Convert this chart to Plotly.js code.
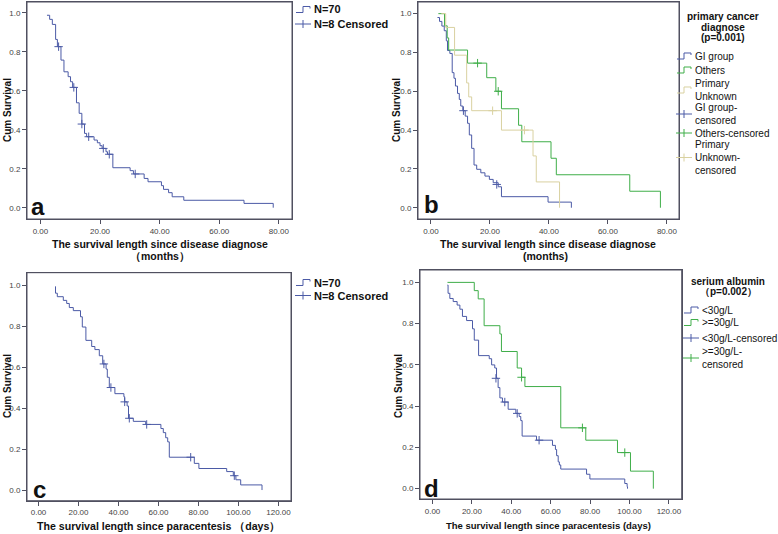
<!DOCTYPE html>
<html>
<head>
<meta charset="utf-8">
<script src="https://cdn.plot.ly/plotly-3.0.1.min.js"></script>
<style>html,body{margin:0;padding:0;background:#fff;}#chart{width:778px;height:534px;}</style>
</head>
<body>
<div id="chart"></div>
<script>
// ---------- DATA ----------
// Panel a: survival since disease diagnose (months), all patients
const aTime = [2.2,3.1,4.0,5.1,5.7,6.9,7.9,9.3,10.1,10.8,12.1,13.0,13.9,14.8,15.5,18.0,19.1,20.0,20.7,22.0,22.5,24.3,30.1,31.2,34.8,36.1,40.6,41.3,43.0,44.2,48.1,68.3,78.1];
const aSurv = [0.987,0.966,0.94,0.863,0.826,0.757,0.697,0.672,0.646,0.617,0.538,0.484,0.429,0.381,0.364,0.347,0.333,0.318,0.304,0.287,0.274,0.205,0.19,0.173,0.15,0.133,0.113,0.094,0.077,0.056,0.038,0.022,0.0];
const aCensT = [6.1,11.2,13.9,16.2,21.1,23.1,31.8];
const aCensS = [0.826,0.617,0.429,0.364,0.304,0.274,0.173];

// Panel b: by primary cancer diagnose (months)
const bGiTime = [2.2,2.9,3.7,4.5,5.2,5.6,6.4,7.2,7.8,8.3,9.0,9.6,10.1,10.8,11.6,12.4,13.0,13.8,14.6,15.5,16.9,18.3,19.8,21.1,22.8,23.9,39.7,47.6];
const bGiSurv = [0.98,0.96,0.936,0.912,0.86,0.81,0.795,0.696,0.667,0.627,0.589,0.558,0.524,0.5,0.472,0.435,0.375,0.306,0.22,0.198,0.18,0.163,0.146,0.129,0.108,0.057,0.029,0.0];
const bGiCensT = [11.0,22.3];
const bGiCensS = [0.5,0.12];
const bOthTime = [2.5,4.6,5.5,6.0,12.4,18.9,22.0,23.9,29.7,30.8,40.7,42.5,67.4,77.8];
const bOthSurv = [1.0,0.9375,0.875,0.8125,0.745,0.67,0.6,0.51,0.425,0.34,0.255,0.17,0.085,0.0];
const bOthCensT = [15.8,22.8];
const bOthCensS = [0.745,0.6];
const bUnkTime = [3.5,5.0,8.0,12.1,12.8,13.8,23.9,34.6,35.7,43.6];
const bUnkSurv = [1.0,0.929,0.786,0.643,0.571,0.5,0.4,0.267,0.133,0.0];
const bUnkCensT = [20.9,31.7];
const bUnkCensS = [0.5,0.4];

// Panel c: survival since paracentesis (days), all patients
const cTime = [8.25,8.5,9.4,12.4,14.1,15.4,17.4,21.0,21.9,23.7,26.6,28.2,30.4,32.1,33.8,34.4,35.4,38.2,42.7,43.1,44.3,45.0,47.4,53.6,61.2,62.4,63.6,64.6,65.4,77.9,80.2,94.1,97.4,98.7,101.1,111.75];
const cSurv = [0.992,0.96,0.943,0.925,0.91,0.89,0.875,0.845,0.795,0.73,0.7,0.685,0.655,0.615,0.59,0.55,0.5,0.47,0.455,0.43,0.41,0.35,0.335,0.32,0.3,0.28,0.255,0.235,0.16,0.13,0.105,0.09,0.07,0.05,0.025,0.0];
const cCensT = [32.7,36.2,43.1,45.4,54.1,76.1,97.9];
const cCensS = [0.615,0.5,0.43,0.35,0.32,0.16,0.07];

// Panel d: by serum albumin (days)
const dLowTime = [7.6,7.9,8.8,10.5,12.5,13.9,15.2,17.3,20.3,21.2,23.4,28.8,30.0,31.6,32.5,33.3,34.2,35.5,38.4,42.3,44.0,44.8,45.5,52.8,60.9,62.4,63.0,63.8,64.4,65.1,78.2,79.9,97.6,98.8,99.0];
const dLowSurv = [0.987,0.947,0.922,0.907,0.89,0.87,0.835,0.815,0.775,0.72,0.645,0.63,0.6,0.585,0.535,0.49,0.44,0.42,0.385,0.365,0.35,0.33,0.255,0.235,0.21,0.19,0.16,0.13,0.115,0.095,0.07,0.047,0.025,0.01,0.0];
const dLowCensT = [32.2,36.7,43.0,54.1];
const dLowCensS = [0.535,0.42,0.365,0.235];
const dHighTime = [7.6,21.2,23.2,26.2,34.2,35.0,43.0,45.2,46.9,65.1,77.8,93.9,100.5,112.1];
const dHighSurv = [1.0,0.96,0.92,0.79,0.75,0.665,0.585,0.54,0.495,0.295,0.235,0.175,0.085,0.0];
const dHighCensT = [45.2,76.1,97.6];
const dHighCensS = [0.54,0.295,0.175];

const monthTicks = [0,20,40,60,80];
const dayTicks = [0,20,40,60,80,100,120];
const survTicks = [0,0.2,0.4,0.6,0.8,1.0];

// ---------- STYLE ----------
const BLUE = '#4b5aa6', GREEN = '#3fae49', TAN = '#d9d1a0';
const FRAME = 'rgb(80,80,96)';
const W = 778, H = 534;
const FONT = 'Liberation Sans, Arial, sans-serif';
const px = x => x / W, py = y => 1 - y / H;

function curve(t, s, color, xa, ya, name) {
  return {x: t, y: s, type: 'scatter', mode: 'lines', line: {shape: 'hv', color: color, width: 1},
          xaxis: xa, yaxis: ya, name: name, showlegend: false, hoverinfo: 'skip'};
}
function cens(t, s, color, xa, ya, name) {
  return {x: t, y: s, type: 'scatter', mode: 'markers',
          marker: {symbol: 'cross-thin', size: 6, line: {color: color, width: 1}, color: color},
          xaxis: xa, yaxis: ya, name: name, showlegend: false, hoverinfo: 'skip'};
}
function xax(l, r, range, ticks, anchor) {
  return {domain: [px(l), px(r)], range: range, tickvals: ticks, tickformat: '.2f', anchor: anchor,
          showline: true, mirror: true, linecolor: FRAME, linewidth: 1,
          ticks: 'outside', ticklen: 4, tickwidth: 1, tickcolor: FRAME,
          tickfont: {family: FONT, size: 8, color: '#444'}, showgrid: false, zeroline: false, fixedrange: true};
}
function yax(t, b, range, anchor) {
  return {domain: [py(b), py(t)], range: range, tickvals: survTicks, tickformat: '.1f', anchor: anchor,
          showline: true, mirror: true, linecolor: FRAME, linewidth: 1,
          ticks: 'outside', ticklen: 4, tickwidth: 1, tickcolor: FRAME,
          tickfont: {family: FONT, size: 8, color: '#444'}, showgrid: false, zeroline: false, fixedrange: true};
}

const data = [
  curve(aTime, aSurv, BLUE, 'x', 'y', 'N=70'),
  cens(aCensT, aCensS, BLUE, 'x', 'y', 'N=8 Censored'),
  curve(bGiTime, bGiSurv, BLUE, 'x2', 'y2', 'GI group'),
  curve(bOthTime, bOthSurv, GREEN, 'x2', 'y2', 'Others'),
  curve(bUnkTime, bUnkSurv, TAN, 'x2', 'y2', 'Primary Unknown'),
  cens(bGiCensT, bGiCensS, BLUE, 'x2', 'y2', 'GI group-censored'),
  cens(bOthCensT, bOthCensS, GREEN, 'x2', 'y2', 'Others-censored'),
  cens(bUnkCensT, bUnkCensS, TAN, 'x2', 'y2', 'Primary Unknown-censored'),
  curve(cTime, cSurv, BLUE, 'x3', 'y3', 'N=70'),
  cens(cCensT, cCensS, BLUE, 'x3', 'y3', 'N=8 Censored'),
  curve(dLowTime, dLowSurv, BLUE, 'x4', 'y4', '<30g/L'),
  curve(dHighTime, dHighSurv, GREEN, 'x4', 'y4', '>=30g/L'),
  cens(dLowCensT, dLowCensS, BLUE, 'x4', 'y4', '<30g/L-censored'),
  cens(dHighCensT, dHighCensS, GREEN, 'x4', 'y4', '>=30g/L-censored')
];

// ---------- ANNOTATIONS / LEGENDS ----------
const ann = [];
const shapes = [];
// panel frames, in paper coordinates
const frames = [[27, 2, 292, 219], [418, 2, 679, 219], [27, 272.7, 291, 500.7], [420, 270, 681.7, 499]];
frames.forEach(([l, t, r, b]) => {
  shapes.push({type: 'rect', xref: 'paper', yref: 'paper', x0: px(l), x1: px(r), y0: py(b), y1: py(t),
               line: {color: FRAME, width: 1}});
});
function txt(x, y, text, size, bold, anchor, extra) {
  ann.push(Object.assign({xref: 'paper', yref: 'paper', x: px(x), y: py(y), text: bold ? '<b>' + text + '</b>' : text,
    showarrow: false, xanchor: anchor || 'center', yanchor: 'middle', align: anchor === 'left' ? 'left' : 'center',
    font: {family: FONT, size: size, color: '#111'}}, extra || {}));
}
function stepGlyph(x0, y, color) {
  const p = v => px(v).toFixed(5), q = v => py(v).toFixed(5);
  shapes.push({type: 'path', xref: 'paper', yref: 'paper',
    path: 'M' + p(x0) + ',' + q(y + 3) + ' L' + p(x0 + 7) + ',' + q(y + 3) + ' L' + p(x0 + 7) + ',' + q(y - 3) +
          ' L' + p(x0 + 14) + ',' + q(y - 3) + ' L' + p(x0 + 14) + ',' + q(y - 1),
    line: {color: color, width: 1}});
}
function crossGlyph(x0, y, color) {
  shapes.push({type: 'line', xref: 'paper', yref: 'paper', x0: px(x0), x1: px(x0 + 16), y0: py(y), y1: py(y), line: {color: color, width: 1}});
  shapes.push({type: 'line', xref: 'paper', yref: 'paper', x0: px(x0 + 8), x1: px(x0 + 8), y0: py(y - 4), y1: py(y + 4), line: {color: color, width: 1}});
}

// axis titles
const ytitle = (x, y) => txt(x, y, 'Cum Survival', 10, true, 'center', {textangle: -90});
ytitle(7, 110); ytitle(396, 110); ytitle(7, 386); ytitle(398, 386);
txt(160, 244, 'The survival length since disease diagnose', 10.5, true);
txt(160, 256, '（months）', 10.5, true);
txt(548, 244, 'The survival length since disease diagnose', 10.5, true);
txt(545, 256, '(months)', 10.5, true);
txt(158, 526.5, 'The survival length since paracentesis （days）', 10.6, true);
txt(548, 525, 'The survival length since paracentesis (days)', 9.5, true);

// panel letters
txt(38, 206, 'a', 24, true); txt(431, 205, 'b', 24, true);
txt(39, 489, 'c', 24, true); txt(431, 488, 'd', 24, true);

// legend a
stepGlyph(296, 9.5, BLUE); txt(312, 9.5, 'N=70', 11, true, 'left');
crossGlyph(295, 24, BLUE); txt(312, 24, 'N=8 Censored', 11, true, 'left');
// legend c
stepGlyph(296, 282.5, BLUE); txt(312, 282.5, 'N=70', 11, true, 'left');
crossGlyph(295, 295.5, BLUE); txt(312, 295.5, 'N=8 Censored', 11, true, 'left');

// legend b
txt(723, 17, 'primary cancer', 10, true); txt(723, 27, 'diagnose', 10, true); txt(723, 37, '(p=0.001)', 10, true);
const LB = 10;
stepGlyph(677, 56, BLUE); txt(693, 56, 'GI group', LB, false, 'left');
stepGlyph(677, 70, GREEN); txt(693, 70, 'Others', LB, false, 'left');
stepGlyph(677, 90, TAN); txt(693, 90, 'Primary<br>Unknown', LB, false, 'left');
crossGlyph(676, 114, BLUE); txt(693, 114, 'GI group-<br>censored', LB, false, 'left');
crossGlyph(676, 133, GREEN); txt(693, 133, 'Others-censored', LB, false, 'left');
crossGlyph(676, 157.5, TAN); txt(693, 157.5, 'Primary<br>Unknown-<br>censored', LB, false, 'left');

// legend d
txt(728, 281, 'serium albumin', 10, true); txt(728, 291, '（p=0.002）', 10, true);
stepGlyph(684, 310, BLUE); txt(700, 310, '&lt;30g/L', LB, false, 'left');
stepGlyph(684, 322.5, GREEN); txt(700, 322.5, '&gt;=30g/L', LB, false, 'left');
crossGlyph(683, 338, BLUE); txt(700, 338, '&lt;30g/L-censored', LB, false, 'left');
crossGlyph(683, 358, GREEN); txt(700, 358, '&gt;=30g/L-<br>censored', LB, false, 'left');

const layout = {
  width: W, height: H, margin: {l: 0, r: 0, t: 0, b: 0},
  paper_bgcolor: '#fff', plot_bgcolor: 'rgba(0,0,0,0)', showlegend: false,
  font: {family: FONT},
  xaxis: xax(27, 292, [-4.5, 84.4], monthTicks, 'y'),
  yaxis: yax(2, 219, [-0.058, 1.055], 'x'),
  xaxis2: xax(418, 679, [-4.4, 84.1], monthTicks, 'y2'),
  yaxis2: yax(2, 219, [-0.058, 1.06], 'x2'),
  xaxis3: xax(27, 291, [-5.75, 126.25], dayTicks, 'y3'),
  yaxis3: yax(272.7, 500.7, [-0.052, 1.06], 'x3'),
  xaxis4: xax(420, 681.7, [-6.35, 126.5], dayTicks, 'y4'),
  yaxis4: yax(270, 499, [-0.05, 1.06], 'x4'),
  annotations: ann, shapes: shapes
};
Plotly.newPlot('chart', data, layout, {displayModeBar: false, staticPlot: true});
</script>
</body>
</html>
